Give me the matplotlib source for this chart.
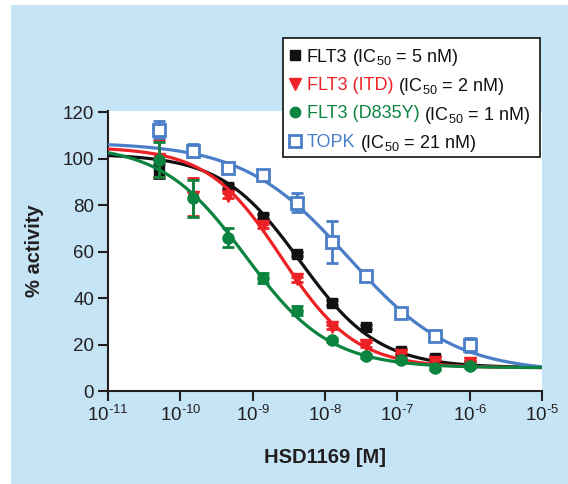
import numpy as np
import matplotlib.pyplot as plt
from matplotlib.patches import Rectangle
from matplotlib.lines import Line2D
from matplotlib.ticker import FixedLocator, FixedFormatter, NullLocator

plt.rcParams['font.family'] = ['Liberation Sans', 'DejaVu Sans']
plt.rcParams['mathtext.fontset'] = 'custom'
plt.rcParams['mathtext.rm'] = 'Liberation Sans'
plt.rcParams['mathtext.it'] = 'Liberation Sans'
plt.rcParams['mathtext.bf'] = 'Liberation Sans:bold'

###--- Data ---###
conc = np.array([5.08e-11, 1.52e-10, 4.57e-10, 1.37e-9, 4.12e-9,
                 1.23e-8, 3.70e-8, 1.11e-7, 3.33e-7, 1.0e-6])

flt3 = np.array([94.5, np.nan, 88, 75, 59, 38, 27.5, 17, 14, 12])
flt3_err = np.array([3, 0, 1, 1, 1, 1, 1, 1, 1, 1])
itd = np.array([100, 83.5, 84, 71, 48, 27.5, 20, 15.5, 12.5, 12])
itd_err = np.array([8, 8, 1, 1, 1, 1, 1, 1, 1, 1])
d835y = np.array([99.5, 83, 66, 48.6, 34.5, 22, 15, 13.3, 10, 10.8])
d835y_err = np.array([7.5, 8, 4, 2, 2, 1, 1, 1, 1, 1])
topk = np.array([112.5, 103.5, 96, 93, 81, 64, 49.5, 33.5, 23.7, 19.8])
topk_err = np.array([3.5, 3, 1, 1, 4, 9, 2, 1, 1, 3])

# fitted 4PL curves: top, bottom, IC50 (M), hill slope
fit_flt3 = (102, 10, 4.5e-9, 0.8)
fit_itd = (105, 10, 2.5e-9, 0.85)
fit_d835y = (106, 10, 8e-10, 0.75)
fit_topk = (107, 8, 2.1e-8, 0.6)

labels_a = ['FLT3', 'FLT3 (ITD)', 'FLT3 (D835Y)', 'TOPK']
labels_b = ['(IC$_{50}$ = 5 nM)', '(IC$_{50}$ = 2 nM)',
            '(IC$_{50}$ = 1 nM)', '(IC$_{50}$ = 21 nM)']
exponents = [-11, -10, -9, -8, -7, -6, -5]

black = '#111111'
red = '#ed2226'
green = '#0b8440'
blue = '#4a7ec8'
bg = '#c5e4f6'


def four_pl(x, p):
    top, bottom, ic50, h = p
    return bottom + (top - bottom) / (1 + (x / ic50) ** h)


W, H = 568, 484
fig = plt.figure(figsize=(W / 100, H / 100), dpi=100, facecolor='white')
fig.add_artist(Rectangle((11 / W, 0), 1, (H - 5) / H, transform=fig.transFigure,
                         facecolor=bg, edgecolor='none', zorder=-5))

ax = fig.add_axes([108 / W, 1 - 391 / H, 434 / W, 280 / H])
ax.set_facecolor('white')

xs = np.logspace(-11, -5, 400)
series = [
    (flt3, flt3_err, fit_flt3, black, dict(marker='s', ms=7.5, mfc=black, mec=black)),
    (itd, itd_err, fit_itd, red, dict(marker='v', ms=9, mfc=red, mec=red)),
    (topk, topk_err, fit_topk, blue, dict(marker='s', ms=8, mfc='white', mec=blue, mew=2)),
    (d835y, d835y_err, fit_d835y, green, dict(marker='o', ms=8, mfc=green, mec=green)),
]
for i, (vals, err, fit, col, mk) in enumerate(series):
    ax.plot(xs, four_pl(xs, fit), color=col, lw=2.3, zorder=2 + i, solid_capstyle='butt')
    ax.errorbar(conc, vals, yerr=err, fmt='none', ecolor=col, elinewidth=2,
                capsize=4.5, capthick=2, zorder=2.5 + i)
    ax.plot(conc, vals, ls='none', zorder=2.6 + i, **mk)

ax.set_xscale('log')
ax.set_xlim(1e-11, 1e-5)
ax.set_ylim(0, 120.5)
ax.xaxis.set_major_locator(FixedLocator([10.0 ** e for e in exponents]))
ax.xaxis.set_major_formatter(FixedFormatter(['10$^{\\text{%d}}$' % e for e in exponents]))
ax.xaxis.set_minor_locator(NullLocator())
ax.set_yticks(np.arange(0, 121, 20))

for s in ['top', 'right']:
    ax.spines[s].set_visible(False)
for s in ['left', 'bottom']:
    ax.spines[s].set_linewidth(1.5)
    ax.spines[s].set_color('#231f20')
ax.tick_params(direction='out', length=7, width=1.5, color='#231f20',
               labelsize=13.5, labelcolor='#231f20', pad=3)

ax.set_xlabel('HSD1169 [M]', fontsize=14.5, fontweight='bold', color='#231f20')
ax.set_ylabel('% activity', fontsize=14.5, fontweight='bold', color='#231f20')
ax.xaxis.set_label_coords(0.5, -0.205)
ax.yaxis.set_label_coords(-0.148, 0.5)

# legend box drawn by hand so the names can be coloured
fig.add_artist(Rectangle((283 / W, 1 - 157 / H), 257 / W, 119 / H, transform=fig.transFigure,
                         facecolor='white', edgecolor=black, lw=1.2, zorder=10))
leg_colors = [black, red, green, blue]
leg_markers = [dict(marker='s', ms=7, mfc=black, mec=black),
               dict(marker='v', ms=9, mfc=red, mec=red),
               dict(marker='o', ms=7.5, mfc=green, mec=green),
               dict(marker='s', ms=8, mfc='white', mec=blue, mew=2)]
fig.canvas.draw()
renderer = fig.canvas.get_renderer()
for i in range(4):
    yy = 1 - (55 + 28.5 * i) / H
    fig.add_artist(Line2D([295 / W], [yy], ls='none', transform=fig.transFigure,
                          zorder=11, **leg_markers[i]))
    t = fig.text(307 / W, yy, labels_a[i], color=leg_colors[i], fontsize=13,
                 va='center_baseline', ha='left', zorder=11)
    bb = t.get_window_extent(renderer)
    fig.text((bb.x1 + 4) / W, yy, labels_b[i], color=black, fontsize=13,
             va='center_baseline', ha='left', zorder=11)

fig.savefig('out.png', dpi=100, facecolor=fig.get_facecolor())
